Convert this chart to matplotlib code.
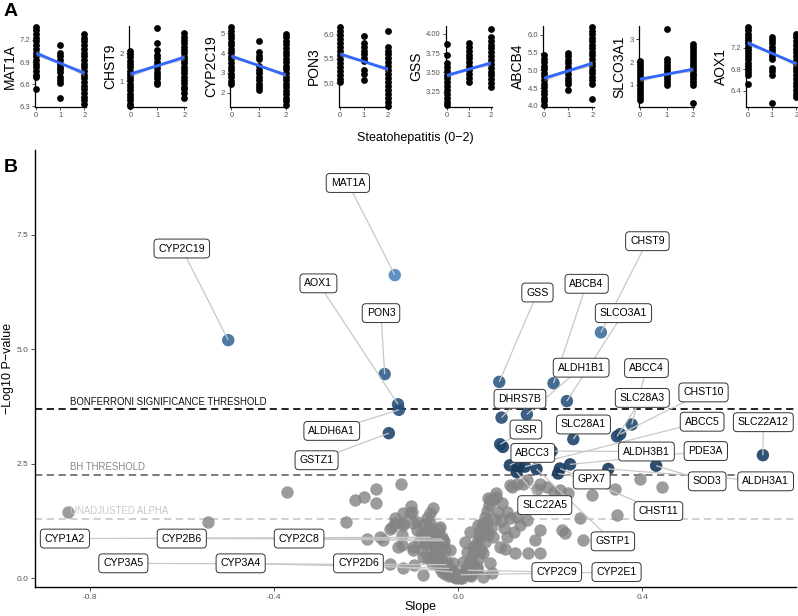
import numpy as np
import matplotlib.pyplot as plt
from matplotlib.colors import LinearSegmentedColormap
from matplotlib.ticker import FormatStrFormatter

plt.rcParams['font.family'] = ['Liberation Sans', 'DejaVu Sans']

# ---------------- panel A data: expression by steatohepatitis grade 0/1/2
genes_a = ['MAT1A', 'CHST9', 'CYP2C19', 'PON3', 'GSS', 'ABCB4', 'SLCO3A1', 'AOX1']
mat1a = [
    [7.38, 7.33, 7.28, 7.23, 7.18, 7.13, 7.08, 7.03, 6.98, 6.93, 6.88, 6.83, 6.78, 6.73, 6.70, 6.54],
    [7.13, 7.03, 6.98, 6.93, 6.88, 6.84, 6.80, 6.76, 6.70, 6.65, 6.61, 6.41],
    [7.28, 7.23, 7.18, 7.13, 7.08, 7.03, 6.98, 6.93, 6.88, 6.83, 6.78, 6.73, 6.68, 6.63, 6.58, 6.53,
     6.48, 6.43, 6.38, 6.33],
]
chst9 = [
    [2.10, 1.98, 1.86, 1.74, 1.62, 1.50, 1.38, 1.26, 1.14, 1.02, 0.90, 0.78, 0.66, 0.54, 0.42, 0.30,
     0.18, 0.10],
    [2.91, 2.36, 2.12, 1.94, 1.82, 1.70, 1.58, 1.46, 1.34, 1.22, 1.10, 0.98, 0.88],
    [2.72, 2.60, 2.48, 2.36, 2.24, 2.12, 2.00, 1.88, 1.76, 1.64, 1.52, 1.40, 1.28, 1.16, 1.04, 0.92,
     0.80, 0.72, 0.55, 0.40],
]
cyp2c19 = [
    [5.30, 5.12, 4.94, 4.76, 4.58, 4.40, 4.22, 4.04, 3.86, 3.68, 3.50, 3.32, 3.14, 2.96, 2.78, 2.60, 2.42],
    [4.63, 4.05, 3.87, 3.70, 3.35, 3.17, 2.99, 2.81, 2.63, 2.45, 2.27, 2.15],
    [4.98, 4.80, 4.62, 4.44, 4.26, 4.08, 3.90, 3.72, 3.54, 3.36, 3.18, 3.00, 2.82, 2.64, 2.46, 2.28,
     2.10, 1.92, 1.74, 1.56, 1.38],
]
pon3 = [
    [6.14, 6.06, 5.98, 5.90, 5.82, 5.74, 5.66, 5.58, 5.50, 5.42, 5.34, 5.26, 5.18, 5.10, 5.02],
    [5.97, 5.82, 5.75, 5.67, 5.59, 5.51, 5.45, 5.27, 5.20, 5.08],
    [6.07, 5.75, 5.67, 5.59, 5.51, 5.43, 5.35, 5.27, 5.19, 5.11, 5.03, 4.95, 4.87, 4.79, 4.71, 4.63, 4.55],
]
gss = [
    [3.87, 3.73, 3.62, 3.57, 3.52, 3.47, 3.42, 3.37, 3.32, 3.27, 3.22, 3.17, 3.12, 3.08],
    [3.88, 3.83, 3.78, 3.73, 3.68, 3.63, 3.58, 3.53, 3.48, 3.43, 3.38],
    [4.06, 3.96, 3.91, 3.86, 3.81, 3.76, 3.71, 3.66, 3.61, 3.56, 3.51, 3.46, 3.41, 3.36, 3.31],
]
abcb4 = [
    [5.43, 5.33, 5.23, 5.13, 5.03, 4.93, 4.83, 4.73, 4.63, 4.53, 4.43, 4.33, 4.23, 4.13, 4.03],
    [5.50, 5.40, 5.30, 5.20, 5.10, 5.00, 4.90, 4.80, 4.70, 4.62, 4.45],
    [6.22, 6.12, 6.02, 5.92, 5.82, 5.72, 5.62, 5.52, 5.42, 5.32, 5.22, 5.12, 5.02, 4.92, 4.82, 4.72,
     4.62, 4.20],
]
slco3a1 = [
    [2.05, 1.92, 1.79, 1.66, 1.53, 1.40, 1.27, 1.14, 1.01, 0.88, 0.75, 0.62, 0.49, 0.36],
    [3.43, 2.15, 2.02, 1.89, 1.76, 1.63, 1.50, 1.37, 1.24, 1.11, 0.98],
    [2.80, 2.67, 2.54, 2.41, 2.28, 2.15, 2.02, 1.89, 1.76, 1.63, 1.50, 1.37, 1.24, 1.11, 0.98, 0.20],
]
aox1 = [
    [7.58, 7.52, 7.46, 7.40, 7.34, 7.28, 7.22, 7.16, 7.10, 7.04, 6.98, 6.92, 6.86, 6.80, 6.74, 6.70, 6.53],
    [7.40, 7.34, 7.28, 7.22, 7.16, 7.10, 7.04, 6.98, 6.82, 6.76, 6.70, 6.17],
    [7.46, 7.39, 7.32, 7.25, 7.18, 7.11, 7.04, 6.97, 6.90, 6.83, 6.76, 6.69, 6.62, 6.55, 6.48, 6.41,
     6.34, 6.29],
]
expr_a = [mat1a, chst9, cyp2c19, pon3, gss, abcb4, slco3a1, aox1]

# fitted line at grade 0 and grade 2, and CI half width at the ends
fit_at0 = [7.02, 1.25, 3.85, 5.60, 3.46, 4.78, 1.25, 7.29]
fit_at2 = [6.75, 1.86, 2.90, 5.29, 3.62, 5.20, 1.69, 6.90]
ci_half = [0.04, 0.10, 0.12, 0.05, 0.03, 0.08, 0.10, 0.05]
ylims_a = [(6.29, 7.39), (0.06, 2.99), (1.28, 5.37), (4.52, 6.17),
           (3.05, 4.10), (3.97, 6.25), (0.035, 3.58), (6.10, 7.60)]
yticks_a = [[6.3, 6.6, 6.9, 7.2], [1, 2], [2, 3, 4, 5], [5.0, 5.5, 6.0],
            [3.25, 3.50, 3.75, 4.00], [4.0, 4.5, 5.0, 5.5, 6.0], [1, 2, 3], [6.4, 6.8, 7.2]]
ydec_a = [1, 0, 0, 1, 2, 1, 0, 1]

# ---------------- panel B data: slope vs -log10 p
bonf = 3.69
bh = 2.26
alpha_line = 1.30

lab_genes = ['MAT1A', 'CYP2C19', 'AOX1', 'PON3', 'ALDH6A1', 'GSTZ1', 'CHST9', 'ABCB4', 'GSS',
             'SLCO3A1', 'ALDH1B1', 'ABCC4', 'DHRS7B', 'SLC28A3', 'CHST10', 'GSR', 'SLC28A1',
             'ABCC5', 'SLC22A12', 'ABCC3', 'ALDH3B1', 'PDE3A', 'GPX7', 'SOD3', 'ALDH3A1',
             'SLC22A5', 'CHST11', 'GSTP1', 'CYP2C9', 'CYP2E1', 'CYP1A2', 'CYP2B6', 'CYP2C8',
             'CYP3A5', 'CYP3A4', 'CYP2D6']
lab_slope = [-0.138, -0.500, -0.131, -0.160, -0.129, -0.151, 0.310, 0.207, 0.089,
             0.236, 0.149, 0.377, 0.094, 0.345, 0.352, 0.091, 0.250,
             0.145, 0.662, 0.112, 0.203, 0.243, 0.217, 0.430, 0.326,
             0.127, 0.221, 0.170, 0.020, 0.005, -0.060, -0.035, -0.030,
             -0.025, -0.020, -0.012]
lab_logp = [6.62, 5.20, 3.80, 4.46, 3.68, 3.17, 5.37, 4.26, 4.29,
            3.87, 3.58, 3.36, 3.51, 3.10, 3.15, 2.93, 3.04,
            2.44, 2.69, 2.47, 2.78, 2.49, 2.29, 2.46, 2.39,
            2.32, 2.40, 2.39, 0.18, 0.08, 0.90, 0.86, 0.82,
            0.30, 0.22, 0.14]
lab_x = [-0.240, -0.601, -0.304, -0.168, -0.275, -0.308, 0.411, 0.279, 0.172,
         0.359, 0.267, 0.409, 0.134, 0.400, 0.533, 0.147, 0.272,
         0.530, 0.663, 0.162, 0.409, 0.538, 0.290, 0.541, 0.668,
         0.188, 0.435, 0.336, 0.214, 0.344, -0.855, -0.601, -0.346,
         -0.728, -0.473, -0.217]
lab_y = [8.63, 7.20, 6.44, 5.79, 3.22, 2.58, 7.36, 6.43, 6.24,
         5.79, 4.60, 4.59, 3.92, 3.94, 4.06, 3.25, 3.36,
         3.42, 3.41, 2.74, 2.77, 2.78, 2.16, 2.12, 2.12,
         1.60, 1.47, 0.81, 0.14, 0.14, 0.87, 0.87, 0.87,
         0.33, 0.33, 0.33]

other_slope = [
    -0.848, -0.543, -0.372, -0.225, -0.205, -0.179, -0.179, -0.243, -0.199, -0.149, -0.138, -0.145,
    -0.130, -0.124, -0.103, -0.054, -0.121, -0.089, -0.105, -0.123, -0.098, -0.096, -0.077, -0.054,
    -0.040, -0.054, -0.025, -0.018, -0.033, -0.011, -0.101, -0.120, -0.138, -0.098, -0.062, -0.149,
    -0.120, -0.062, -0.123, -0.076, -0.043, -0.098, -0.076, -0.120, -0.051, -0.058, -0.033, -0.018,
    -0.007, 0.004, -0.036, -0.058, -0.072, -0.029, -0.011, -0.090, -0.163, -0.170,
    0.083, 0.076, 0.094, 0.105, 0.112, 0.127, 0.062, 0.043, 0.025, 0.015, 0.018, 0.011, 0.015, 0.033,
    0.047, 0.062, 0.076, 0.054, 0.040, 0.069, 0.091, 0.105, 0.102, 0.123, 0.120, 0.134, 0.149, 0.178,
    0.167, 0.178, 0.073, 0.054, 0.025, 0.127, 0.149, 0.178, 0.207, 0.112, 0.225, 0.232, 0.272, 0.265,
    0.290, 0.344, 0.395, 0.442, 0.341, 0.152, 0.192, 0.221, 0.239, 0.170, 0.116, 0.141, 0.065, 0.083,
    -0.068, -0.064, -0.060, -0.056, -0.052, -0.048, -0.045, -0.041, -0.038, -0.034, -0.030, -0.026,
    -0.022, -0.019, -0.015, -0.012, -0.008, -0.004, -0.066, -0.062, -0.070, -0.058, -0.050, -0.046,
    -0.040, -0.035, -0.028, -0.020, -0.075, -0.080, -0.085, -0.078, -0.065,
    0.006, 0.010, 0.014, 0.018, 0.022, 0.026, 0.030, 0.034, 0.038, 0.042, 0.046, 0.050, 0.054, 0.058,
    0.062, 0.066, 0.070, 0.035, 0.045, 0.050, 0.058, 0.065, 0.072, 0.080, 0.086, 0.092, 0.100, 0.030,
    0.040, 0.028, 0.008,
    0.097, 0.130,
]
other_logp = [
    1.45, 1.24, 1.88, 1.71, 1.77, 1.96, 1.64, 1.24, 0.87, 0.31, 1.31, 1.13,
    0.69, 2.07, 1.58, 1.54, 1.20, 1.24, 1.42, 0.73, 0.62, 0.29, 0.07, 0.91,
    1.13, 0.47, 0.36, 0.62, 0.76, 0.18, 1.45, 1.42, 1.20, 1.20, 1.20, 1.09,
    1.16, 1.42, 0.95, 0.95, 1.09, 0.69, 0.47, 0.22, 0.55, 0.33, 0.25, 0.14,
    0.03, 0.00, 0.91, 1.02, 0.76, 0.62, 0.33, 1.05, 0.84, 0.91,
    1.86, 1.71, 1.64, 1.45, 1.31, 1.35, 1.24, 1.16, 1.02, 0.80, 0.58, 0.36, 0.18, 0.69,
    0.91, 1.05, 0.91, 0.55, 0.25, 0.33, 0.69, 0.91, 0.65, 0.55, 1.02, 1.16, 1.27, 1.05,
    0.84, 0.55, 0.11, 0.03, 0.07, 2.07, 2.15, 2.07, 1.89, 2.04, 1.05, 1.00, 0.84, 1.31,
    1.82, 1.38, 2.16, 2.00, 1.96, 0.55, 1.99, 1.94, 1.86, 1.96, 1.99, 2.07, 1.75, 1.78,
    1.32, 1.12, 0.98, 0.85, 0.72, 0.64, 0.55, 0.48, 0.42, 0.35, 0.30, 0.24,
    0.18, 0.12, 0.09, 0.06, 0.04, 0.02, 1.05, 0.90, 0.80, 0.60, 0.50, 0.32,
    0.22, 0.15, 0.10, 0.05, 1.18, 0.98, 0.80, 0.62, 0.45,
    0.05, 0.10, 0.15, 0.22, 0.30, 0.40, 0.50, 0.60, 0.72, 0.85, 0.98, 1.10, 1.22, 1.35,
    1.48, 1.60, 1.72, 0.30, 0.45, 0.62, 0.80, 0.95, 1.10, 1.30, 1.45, 1.25, 1.10, 0.12,
    0.20, 0.05, 0.02,
    2.87, 2.44,
]

# ---------------- figure
W, H = 798, 616
fig = plt.figure(figsize=(W / 100, H / 100), dpi=100)


def px_box(left, top, width, height):
    return [left / W, 1 - (top + height) / H, width / W, height / H]


# panel A geometry (pixels): left spine and position of grade 2
a_left = [35, 129, 230, 339, 445.7, 543, 638.7, 746.3]
a_x2 = [84.3, 184.3, 285.7, 387.7, 490.7, 592.3, 693, 796.3]
a_top, a_bot = 26, 107
xlo, xhi = -0.05, 2.05

for i, g in enumerate(genes_a):
    w = (a_x2[i] - a_left[i]) * (xhi - xlo) / (2 - xlo)
    ax = fig.add_axes(px_box(a_left[i], a_top, w, a_bot - a_top))
    for grade, vals in enumerate(expr_a[i]):
        ax.scatter(np.full(len(vals), grade), vals, s=24, color='black', lw=0,
                   zorder=2, clip_on=False)
    xs = np.linspace(0, 2, 50)
    fit = fit_at0[i] + (fit_at2[i] - fit_at0[i]) * xs / 2
    half = ci_half[i] * np.sqrt(0.25 + (xs - 1) ** 2) / np.sqrt(1.25)
    ax.fill_between(xs, fit - half, fit + half, color='#999999', alpha=0.45, lw=0, zorder=3)
    ax.plot(xs, fit, color='#3366FF', lw=2.0, zorder=4, solid_capstyle='butt')
    ax.set_xlim(xlo, xhi)
    ax.set_ylim(*ylims_a[i])
    ax.set_xticks([0, 1, 2])
    ax.set_yticks(yticks_a[i])
    ax.yaxis.set_major_formatter(FormatStrFormatter('%%.%df' % ydec_a[i]))
    ax.tick_params(labelsize=5.5, labelcolor='#555555', length=2, width=0.6, color='#333333', pad=1.5)
    ax.set_ylabel(g, fontsize=10, labelpad=2)
    for s in ['top', 'right']:
        ax.spines[s].set_visible(False)
    for s in ['left', 'bottom']:
        ax.spines[s].set_linewidth(0.9)

fig.text(0.52, 1 - 138 / H, 'Steatohepatitis (0\u22122)', ha='center', va='center', fontsize=9)
fig.text(4 / W, 1 - 12 / H, 'A', ha='left', va='center', fontsize=14, fontweight='bold')
fig.text(4 / W, 1 - 167 / H, 'B', ha='left', va='center', fontsize=14, fontweight='bold')

# panel B
axb = fig.add_axes(px_box(35, 150, 761, 436.7))
axb.set_xlim(-0.920, 0.734)
axb.set_ylim(-0.18, 9.35)

axb.axhline(bonf, color='#111111', lw=1.3, ls=(0, (4, 2.5)), zorder=1)
axb.axhline(bh, color='#707070', lw=1.3, ls=(0, (4, 2.5)), zorder=1)
axb.axhline(alpha_line, color='#cccccc', lw=1.3, ls=(0, (4, 2.5)), zorder=1)

all_slope = np.array(lab_slope + other_slope)
all_logp = np.array(lab_logp + other_logp)
sig = all_logp > bh
cmap = LinearSegmentedColormap.from_list('sig', ['#16375a', '#4d85bc'])
axb.scatter(all_slope[~sig], all_logp[~sig], s=80, color='#848484', alpha=0.8, lw=0, zorder=2)
axb.scatter(all_slope[sig], all_logp[sig], s=80, c=all_logp[sig], cmap=cmap,
            vmin=bh, vmax=6.62, alpha=0.9, lw=0, zorder=2)

for g, px, py, lx, ly in zip(lab_genes, lab_slope, lab_logp, lab_x, lab_y):
    axb.plot([px, lx], [py, ly], color='#c8c8c8', lw=0.9, zorder=3, solid_capstyle='butt')
    axb.text(lx, ly, g, ha='center', va='center', fontsize=7.6, zorder=4,
             bbox=dict(boxstyle='round,pad=0.42,rounding_size=0.35', fc='white',
                       ec='#333333', lw=0.7))

axb.text(-0.845, bonf + 0.06, 'BONFERRONI SIGNIFICANCE THRESHOLD', fontsize=6.9,
         color='#111111', va='bottom', ha='left', zorder=5)
axb.text(-0.845, bh + 0.06, 'BH THRESHOLD', fontsize=6.9, color='#888888',
         va='bottom', ha='left', zorder=5)
axb.text(-0.845, alpha_line + 0.06, 'UNADJUSTED ALPHA', fontsize=6.9, color='#c8c8c8',
         va='bottom', ha='left', zorder=5)

axb.set_xticks([-0.8, -0.4, 0.0, 0.4])
axb.set_yticks([0.0, 2.5, 5.0, 7.5])
axb.xaxis.set_major_formatter(FormatStrFormatter('%.1f'))
axb.yaxis.set_major_formatter(FormatStrFormatter('%.1f'))
axb.tick_params(labelsize=6, labelcolor='#555555', length=3, width=0.6, color='#333333', pad=2)
for s in ['top', 'right']:
    axb.spines[s].set_visible(False)
for s in ['left', 'bottom']:
    axb.spines[s].set_linewidth(1.0)

fig.text(420 / W, 1 - 607 / H, 'Slope', ha='center', va='center', fontsize=9)
fig.text(8 / W, 1 - 368 / H, '\u2212Log10 P\u2212value', ha='center', va='center',
         rotation=90, fontsize=9)

fig.savefig('out.png', dpi=100)
